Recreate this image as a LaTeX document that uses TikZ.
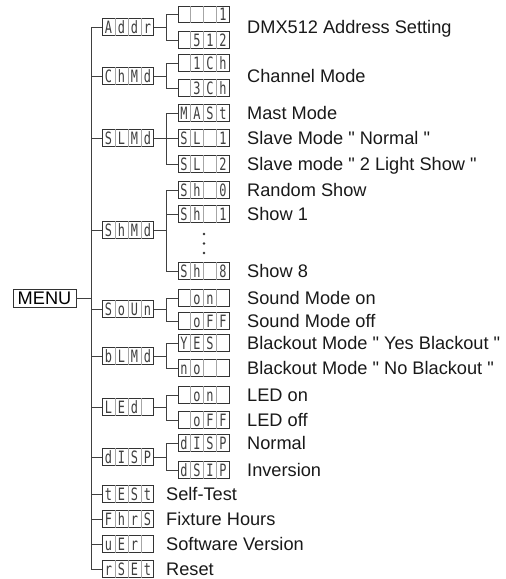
\documentclass[tikz,border=0pt]{standalone}
\usepackage{fontspec}
\newfontfamily\descfont{Liberation Sans}
\newfontfamily\segfont[FakeStretch=0.7]{DejaVu Sans Mono}
\usetikzlibrary{calc}

\tikzset{
  ledbox/.style={draw=black!80, fill=white, line width=0.9pt, minimum width=51pt, minimum height=16.5pt, inner sep=0pt},
  ledcell/.style={draw=black!35, line width=0.6pt},
  ledchar/.style={font=\segfont\fontsize{17}{17}\selectfont, text=black!75, inner sep=0pt, text height=12.4pt, text depth=0pt},
  desc/.style={anchor=west, inner sep=0pt, text=black!90, font=\descfont\fontsize{18.2}{20}\selectfont, text height=13.2pt, text depth=0pt},
  menubox/.style={draw=black!80, line width=0.9pt, minimum width=63pt, minimum height=18pt, inner sep=0pt, font=\descfont\fontsize{18.2}{20}\selectfont, text height=13.2pt, text depth=0pt},
  wire/.style={draw=black!75, line width=0.9pt},
}

% one display: name, centre, four cells
\newcommand\ledbox[6]{%
  \node[ledbox] (#1) at (#2) {};
  \foreach \k in {1,2,3}
    \draw[ledcell] ($(#1.north west)!\k/4!(#1.north east)$) -- ($(#1.south west)!\k/4!(#1.south east)$);
  \node[ledchar] (#1-1) at ($(#1.west)!0.125!(#1.east)$) {#3};
  \node[ledchar] (#1-2) at ($(#1.west)!0.375!(#1.east)$) {#4};
  \node[ledchar] (#1-3) at ($(#1.west)!0.625!(#1.east)$) {#5};
  \node[ledchar] (#1-4) at ($(#1.west)!0.875!(#1.east)$) {#6};
}

\begin{document}
\begin{tikzpicture}[x=1pt, y=-1pt]
    \useasboundingbox (0,0) rectangle (506,579);

    % Menu
    \node[menubox] (menu) at (44.5,298) {MENU};

    % Main level
    \ledbox{addr}{128,27}{A}{d}{d}{r}
    \ledbox{chmd}{128,76}{C}{h}{M}{d}
    \ledbox{slmd}{128,138}{S}{L}{M}{d}
    \ledbox{shmd}{128,230}{S}{h}{M}{d}
    \ledbox{soun}{128,309}{S}{o}{U}{n}
    \ledbox{blmd}{128,356}{b}{L}{M}{d}
    \ledbox{led}{128,407}{L}{E}{d}{}
    \ledbox{disp}{128,457}{d}{I}{S}{P}
    \ledbox{test}{128,494}{t}{E}{S}{t}
    \ledbox{fhrs}{128,519}{F}{h}{r}{S}
    \ledbox{ver}{128,544}{u}{E}{r}{}
    \ledbox{rset}{128,569}{r}{S}{E}{t}

    % Sub level
    \ledbox{adr1}{203.5,14.5}{}{}{}{1}
    \ledbox{adr2}{203.5,40}{}{5}{1}{2}
    \ledbox{ch1}{203.5,63}{}{1}{C}{h}
    \ledbox{ch3}{203.5,88}{}{3}{C}{h}
    \ledbox{mast}{203.5,113}{M}{A}{S}{t}
    \ledbox{sl1}{203.5,138}{S}{L}{}{1}
    \ledbox{sl2}{203.5,164}{S}{L}{}{2}
    \ledbox{sh0}{203.5,190}{S}{h}{}{0}
    \ledbox{sh1}{203.5,214}{S}{h}{}{1}
    \ledbox{sh8}{203.5,271}{S}{h}{}{8}
    \ledbox{son}{203.5,298}{}{o}{n}{}
    \ledbox{soff}{203.5,321}{}{o}{F}{F}
    \ledbox{byes}{203.5,343}{Y}{E}{S}{}
    \ledbox{bno}{203.5,368}{n}{o}{}{}
    \ledbox{lon}{203.5,395}{}{o}{n}{}
    \ledbox{loff}{203.5,420}{}{o}{F}{F}
    \ledbox{dnor}{203.5,443}{d}{I}{S}{P}
    \ledbox{dinv}{203.5,470}{d}{S}{I}{P}

    % Show dots
    \foreach \y in {234,243.5,253}
        \fill[black!80] (204,\y) circle (1.4);

    % Descriptions
    \node[desc] (t-adr) at (247,27) {DMX512 Address Setting};
    \node[desc] (t-ch) at (247,76) {Channel Mode};
    \node[desc] (t-mast) at (247,113) {Mast Mode};
    \node[desc] (t-sl1) at (247,138) {Slave Mode " Normal "};
    \node[desc] (t-sl2) at (247,164) {Slave mode " 2 Light Show "};
    \node[desc] (t-sh0) at (247,190) {Random Show};
    \node[desc] (t-sh1) at (247,214) {Show 1};
    \node[desc] (t-sh8) at (247,271) {Show 8};
    \node[desc] (t-son) at (247,298) {Sound Mode on};
    \node[desc] (t-soff) at (247,321) {Sound Mode off};
    \node[desc] (t-byes) at (247,343) {Blackout Mode " Yes Blackout "};
    \node[desc] (t-bno) at (247,368) {Blackout Mode " No Blackout "};
    \node[desc] (t-lon) at (247,395) {LED on};
    \node[desc] (t-loff) at (247,420) {LED off};
    \node[desc] (t-dnor) at (247,443) {Normal};
    \node[desc] (t-dinv) at (247,470) {Inversion};
    \node[desc] (t-test) at (166,494) {Self-Test};
    \node[desc] (t-fhrs) at (166,519) {Fixture Hours};
    \node[desc] (t-ver) at (166,544) {Software Version};
    \node[desc] (t-rset) at (166,569) {Reset};

    % Trunk
    \coordinate (trunk) at (91,0);
    \coordinate (fork) at (166,0);
    \draw[wire] (addr.west) -| (trunk |- rset.west) -- (rset.west);
    \foreach \m in {chmd,slmd,shmd,soun,blmd,led,disp,test,fhrs,ver}
        \draw[wire] (\m.west) -- (\m.west -| trunk);
    \draw[wire] (menu.east) -- (menu.east -| trunk);

    % Forks
    \foreach \m/\a/\b in {addr/adr1/adr2, chmd/ch1/ch3, slmd/mast/sl2, shmd/sh0/sh8,
                          soun/son/soff, blmd/byes/bno, led/lon/loff, disp/dnor/dinv} {
        \draw[wire] (\m.east) -- (\m.east -| fork);
        \draw[wire] (\a.west) -| (fork |- \b.west) -- (\b.west);
    }
    \draw[wire] (sl1.west) -- (sl1.west -| fork);
    \draw[wire] (sh1.west) -- (sh1.west -| fork);

\end{tikzpicture}
\end{document}
